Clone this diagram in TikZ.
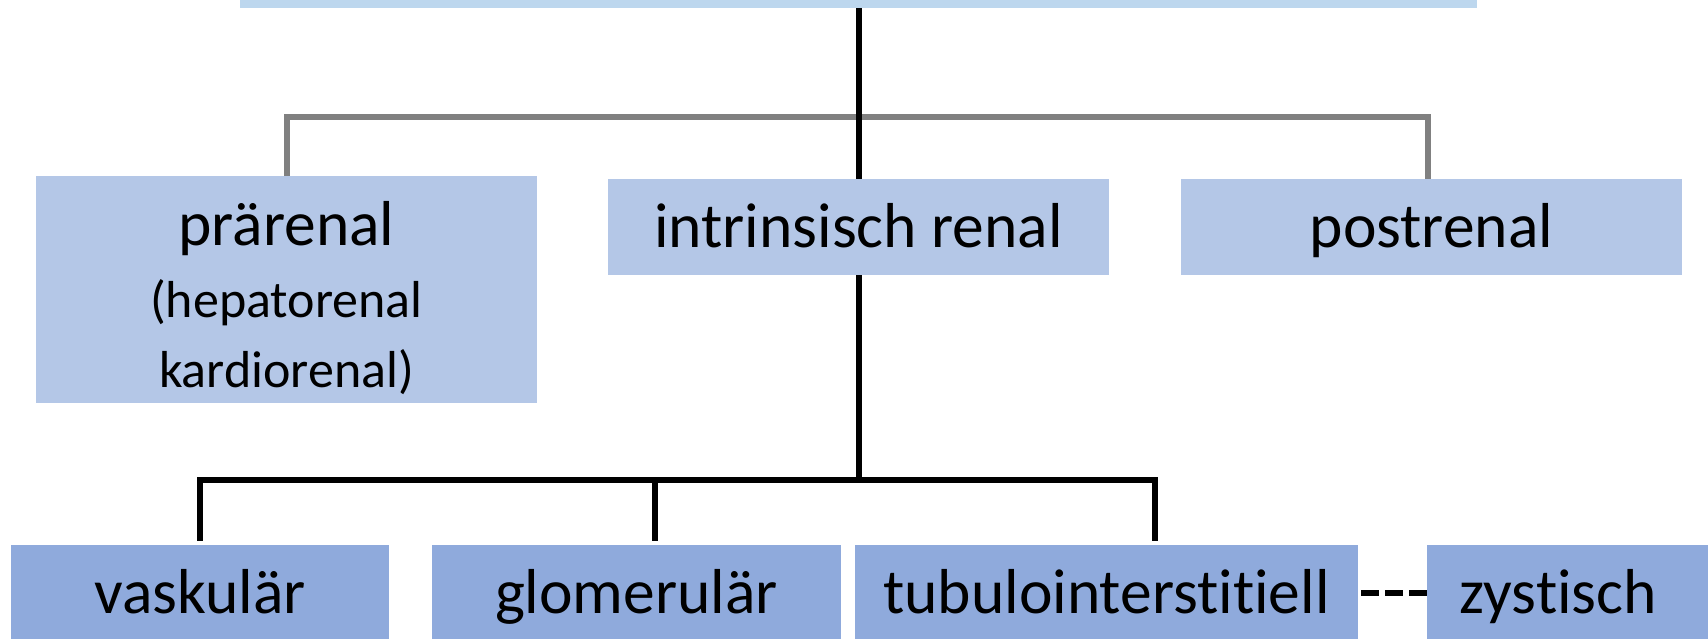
\documentclass[tikz,border=0pt]{standalone}
\usepackage{fontspec}
\setmainfont[Ligatures=NoCommon]{Carlito}
\definecolor{topc}{HTML}{BDD7EE}
\definecolor{midc}{HTML}{B4C7E7}
\definecolor{lowc}{HTML}{8FAADC}
\definecolor{grayline}{HTML}{808080}
\begin{document}
\begin{tikzpicture}[x=1pt,y=-1pt,
  box/.style={rectangle,inner sep=0pt,text=black,align=center,font=\fontsize{63.5}{70}\selectfont},
  midbox/.style={box,fill=midc,minimum width=501pt,minimum height=96pt,text height=48pt,text depth=8pt},
  lowbox/.style={box,fill=lowc,minimum height=96pt,text height=48pt,text depth=8pt},
  blk/.style={draw=black,line width=6pt},
  gry/.style={draw=grayline,line width=6pt}]
\useasboundingbox (0,0) rectangle (1708,638);
\node[box,fill=topc,minimum width=1237pt,minimum height=48pt] (top) at (858.5,-16) {};
\node[box,fill=midc,minimum width=501pt,minimum height=227pt,
  label={[yshift=-9pt,align=center,text=black,font=\fontsize{63.5}{70}\selectfont]center:prärenal\\[2pt]{\fontsize{52}{63}\selectfont (hepatorenal}\\{\fontsize{52}{63}\selectfont kardiorenal)}}] (pre) at (286.5,289.5) {};
\node[midbox] (intr) at (858.5,227) {intrinsisch renal};
\node[midbox] (post) at (1431.5,227) {postrenal};
\node[lowbox,minimum width=378pt] (vask) at (200,593) {vaskulär};
\node[lowbox,minimum width=409pt] (glom) at (636.5,593) {glomerulär};
\node[lowbox,minimum width=503pt] (tubu) at (1106.5,593) {tubulointerstitiell};
\node[lowbox,minimum width=330pt] (zyst) at (1592,593) {\hspace*{-68pt}zystisch};
\coordinate (gj) at (858.5,117);
\coordinate (bj) at (858.5,480);
\draw[gry] (pre.north) |- (gj) -| ([xshift=-4pt]post.north);
\draw[blk] (top.south) -- (intr.north);
\draw[blk] (intr.south) -- (bj);
\draw[blk] ([yshift=4pt]vask.north) |- (bj) -| ([xshift=48.5pt,yshift=4pt]tubu.north);
\draw[blk] ([xshift=18.5pt,yshift=4pt]glom.north) -- ([xshift=18.5pt]glom.north |- bj);
\draw[draw=black,line width=6pt,dash pattern=on 18pt off 6pt] ([xshift=3pt]tubu.east) -- (zyst.west);
\end{tikzpicture}
\end{document}
